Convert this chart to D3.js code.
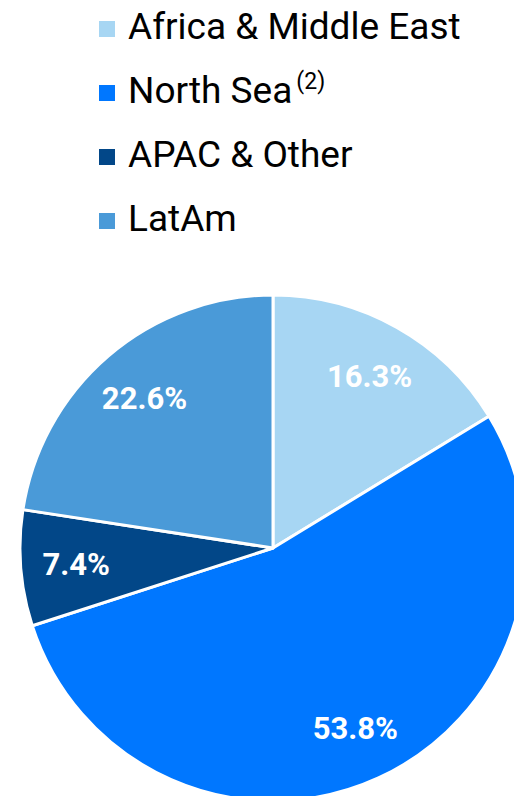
<!DOCTYPE html>
<html>
<head>
<meta charset="utf-8">
<script src="https://cdn.jsdelivr.net/npm/d3@7"></script>
<style>
  body { margin: 0; background: #fff; }
  svg { display: block; font-family: Roboto, sans-serif; }
</style>
</head>
<body>
<script>
// W and H
var w = 514;
var h = 796;

// data, clockwise from 12 o'clock
var regions = ["Africa & Middle East", "North Sea", "APAC & Other", "LatAm"];
var shares = [16.3, 53.8, 7.4, 22.6];
var colors = ["#a7d6f3", "#0077ff", "#024788", "#4a9ad8"];
var notes = ["", "(2)", "", ""];

var cx = 273, cy = 548, radius = 253;

var color = d3.scaleOrdinal().domain(regions).range(colors);

var svg = d3.select("body")
    .append("svg")
    .attr("width", w)
    .attr("height", h);

var data = regions.map(function(r, i) { return { name: r, value: shares[i], note: notes[i] }; });

var pie = d3.pie()
    .sort(null)
    .value(function(d) { return d.value; });

var arc = d3.arc()
    .innerRadius(0)
    .outerRadius(radius);

var labelArc = d3.arc()
    .innerRadius(radius * 0.78)
    .outerRadius(radius * 0.78);

var g = svg.append("g")
    .attr("transform", "translate(" + cx + "," + cy + ")");

g.selectAll("path")
    .data(pie(data))
    .enter()
    .append("path")
    .attr("d", arc)
    .attr("fill", function(d) { return color(d.data.name); })
    .attr("stroke", "#fff")
    .attr("stroke-width", 3)
    .attr("stroke-linejoin", "round");

g.selectAll("text.pct")
    .data(pie(data))
    .enter()
    .append("text")
    .attr("class", "pct")
    .attr("transform", function(d) { return "translate(" + labelArc.centroid(d) + ")"; })
    .attr("text-anchor", "middle")
    .attr("dy", "0.36em")
    .attr("fill", "#fff")
    .attr("font-size", 31)
    .attr("font-weight", "bold")
    .text(function(d) { return d.data.value.toFixed(1) + "%"; });

// legend
var legend = svg.append("g")
    .attr("transform", "translate(99,0)");

var item = legend.selectAll("g")
    .data(data)
    .enter()
    .append("g")
    .attr("transform", function(d, i) { return "translate(0," + (39 + i * 64) + ")"; });

item.append("rect")
    .attr("x", 0)
    .attr("y", -18)
    .attr("width", 16)
    .attr("height", 16)
    .attr("fill", function(d) { return color(d.name); });

var label = item.append("text")
    .attr("x", 29)
    .attr("y", 0)
    .attr("font-size", 37)
    .attr("fill", "#000");

label.append("tspan")
    .text(function(d) { return d.name; });

label.append("tspan")
    .attr("font-size", 23)
    .attr("dx", 4)
    .attr("dy", -14)
    .text(function(d) { return d.note; });
</script>
</body>
</html>
